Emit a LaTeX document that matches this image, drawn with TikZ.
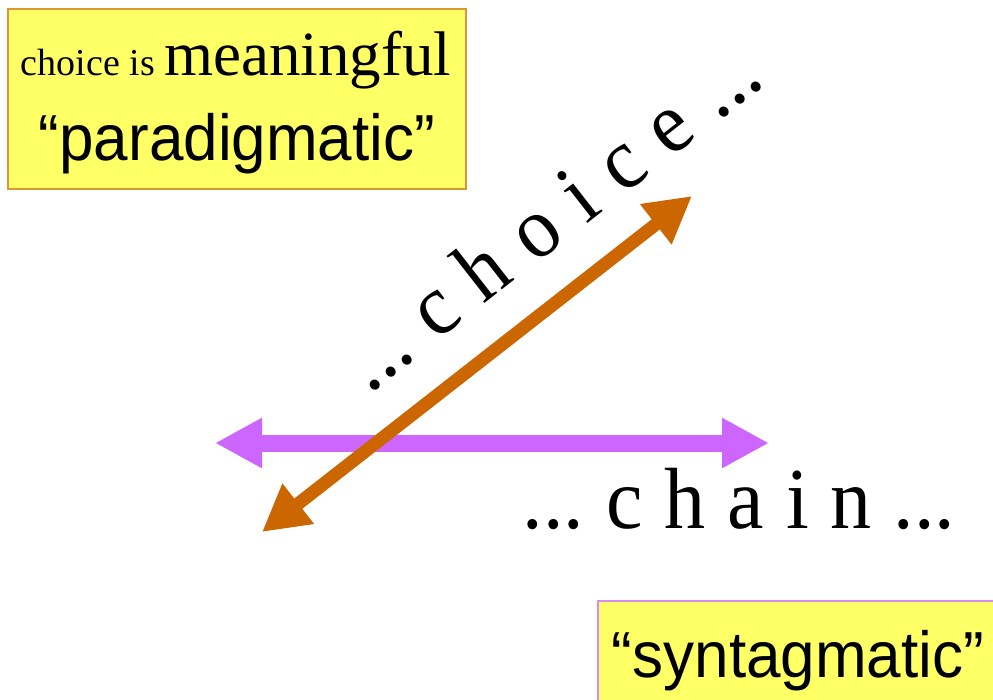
\documentclass[tikz,border=0pt]{standalone}
\usepackage{fontspec}
\setmainfont{Liberation Serif}
\newfontfamily\arialfont{Liberation Sans}
\usepackage{xcolor}
\usetikzlibrary{arrows.meta,positioning,calc}
\definecolor{noteyellow}{RGB}{255,255,102}
\definecolor{paraedge}{RGB}{222,150,52}
\definecolor{syntedge}{RGB}{214,140,240}
\definecolor{chainviolet}{RGB}{204,102,255}
\definecolor{choiceorange}{RGB}{204,102,0}
\frenchspacing

\begin{document}
\begin{tikzpicture}[x=1pt,y=-1pt,
  notebox/.style={rectangle,fill=noteyellow,line width=2pt,inner sep=0pt},
  bigword/.style={anchor=base,font=\fontsize{82}{86}\selectfont},
  chainarrow/.style={chainviolet,line width=17pt,{Triangle[length=47pt,width=47pt]}-{Triangle[length=47pt,width=47pt]}},
  choicearrow/.style={choiceorange,line width=13pt,{Triangle[length=46pt,width=48pt]}-{Triangle[length=46pt,width=48pt]}}]
\useasboundingbox (0,0) rectangle (993,699);
\clip (0,0) rectangle (993,699);
\fill[white] (0,0) rectangle (993,699);

\node[notebox,draw=paraedge,minimum width=458pt,minimum height=180pt] (parabox) at (236.5,99) {};
\node[anchor=base] (meaning) at (236,75) {\fontsize{38}{40}\selectfont choice is \fontsize{63}{66}\selectfont meaningful};
\node[anchor=base] (para) at (237,160) {\arialfont\fontsize{62}{66}\selectfont\scalebox{1}[1.05]{“paradigmatic”}};

\node[notebox,draw=syntedge,minimum width=405pt,minimum height=108pt] (synbox) at (800.5,655) {};
\node[anchor=base] (synt) at (798,677) {\arialfont\fontsize{62}{66}\selectfont\scalebox{1}[1.05]{“syntagmatic”}};

\coordinate (chainL) at (215,443);
\coordinate (chainR) at (769,443);
\coordinate (choiceL) at (262,532);
\coordinate (choiceU) at (692,196);
\draw[chainarrow] (chainL) -- (chainR);
\draw[choicearrow] (choiceL) -- (choiceU);

\node[bigword] (chain) at (739,528) {\spaceskip=22pt\relax\scalebox{1}[1.06]{... c h a i n ...}};
\node[bigword,rotate=38] (choice) at (568,239) {\spaceskip=24pt\relax\scalebox{1}[1.06]{... c h o i c e ...}};
\end{tikzpicture}
\end{document}
